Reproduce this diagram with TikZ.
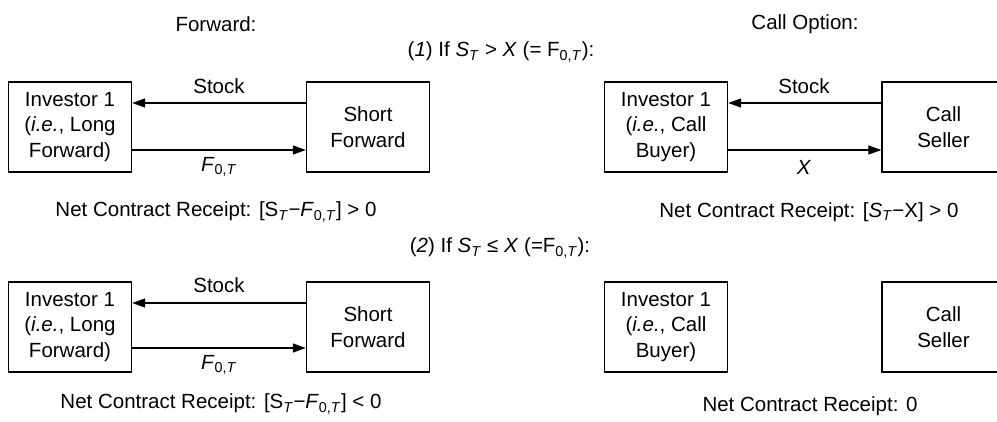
\documentclass[tikz,border=0pt]{standalone}
\usepackage{fontspec}
\setmainfont{Liberation Sans}
\usetikzlibrary{arrows.meta}
\newcommand{\sub}[1]{\textsubscript{#1}}
\begin{document}
\begin{tikzpicture}[x=1pt,y=-1pt,
  box/.style={draw, line width=1.4pt, minimum width=123pt, minimum height=90pt, align=center, inner sep=0pt, font=\fontsize{20.5}{25.5}\selectfont},
  lbl/.style={font=\fontsize{20.5}{24}\selectfont, inner sep=0pt},
  flow/.style={line width=1.3pt, -{Triangle[length=13pt,width=9pt]}}]
\useasboundingbox (0,0) rectangle (997,422);
\clip (0,0) rectangle (997,422);
\fill[white] (0,0) rectangle (997,422);

% headings
\node[lbl] (hf) at (216,24) {Forward:};
\node[lbl] (hc) at (805,24) {Call Option:};
\node[lbl] (c1) at (501,52) {(\textit{1}) If \textit{S}\sub{\textit{T}} > \textit{X} (= F\sub{0,\textit{T}}):};
\node[lbl] (c2) at (500,248) {(\textit{2}) If \textit{S}\sub{\textit{T}} ≤ \textit{X} (=F\sub{0,\textit{T}}):};

% row 1 forward
\node[box] (inv1) at (70,127) {Investor 1\\(\textit{i.e.}, Long\\Forward)};
\node[box] (sf1) at (368,127) {Short\\Forward};
\draw[flow] ([yshift=24pt]sf1.west) -- ([yshift=24pt]inv1.east);
\draw[flow] ([yshift=-23pt]inv1.east) -- ([yshift=-23pt]sf1.west);
\node[lbl] (st1) at (219,86) {Stock};
\node[lbl] (f1) at (219,167) {\textit{F}\sub{0,\textit{T}}};
\node[lbl] (n1) at (216,212) {Net Contract Receipt: [S\sub{\textit{T}}−\textit{F}\sub{0,\textit{T}}] > 0};

% row 1 call
\node[box] (cb1) at (666,127) {Investor 1\\(\textit{i.e.}, Call\\Buyer)};
\node[box] (cs1) at (943.5,127) {Call\\Seller};
\draw[flow] ([yshift=24pt]cs1.west) -- ([yshift=24pt]cb1.east);
\draw[flow] ([yshift=-23pt]cb1.east) -- ([yshift=-23pt]cs1.west);
\node[lbl] (st2) at (804,86) {Stock};
\node[lbl] (x1) at (804,167) {\textit{X}};
\node[lbl] (n2) at (809,212) {Net Contract Receipt: [\textit{S}\sub{\textit{T}}−X] > 0};

% row 2 forward
\node[box] (inv2) at (70,327) {Investor 1\\(\textit{i.e.}, Long\\Forward)};
\node[box] (sf2) at (368,327) {Short\\Forward};
\draw[flow] ([yshift=24pt]sf2.west) -- ([yshift=24pt]inv2.east);
\draw[flow] ([yshift=-21pt]inv2.east) -- ([yshift=-21pt]sf2.west);
\node[lbl] (st3) at (219,285) {Stock};
\node[lbl] (f2) at (219,365) {\textit{F}\sub{0,\textit{T}}};
\node[lbl] (n3) at (221,404) {Net Contract Receipt: [S\sub{\textit{T}}−\textit{F}\sub{0,\textit{T}}] < 0};

% row 2 call
\node[box] (cb2) at (666,327) {Investor 1\\(\textit{i.e.}, Call\\Buyer)};
\node[box] (cs2) at (943.5,327) {Call\\Seller};
\node[lbl] (n4) at (810,406) {Net Contract Receipt: 0};
\end{tikzpicture}
\end{document}
